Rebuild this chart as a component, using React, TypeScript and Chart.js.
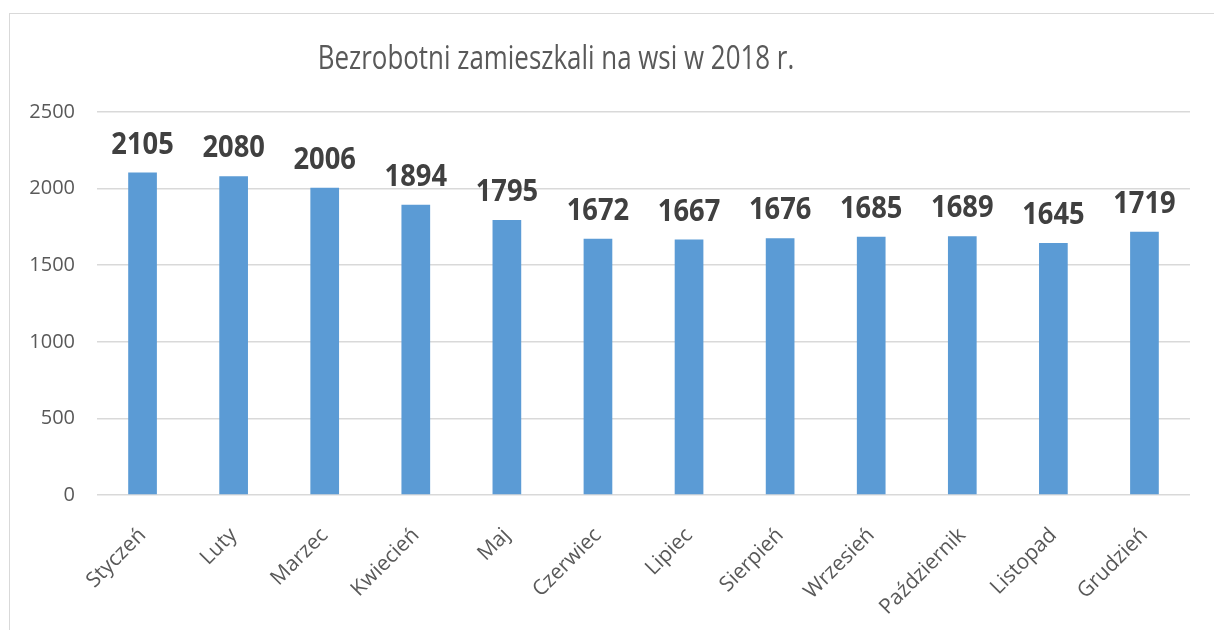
import React, { useEffect, useRef } from "react";
import { Chart, registerables } from "chart.js";

Chart.register(...registerables);

const months = [
  "Styczeń", "Luty", "Marzec", "Kwiecień", "Maj", "Czerwiec",
  "Lipiec", "Sierpień", "Wrzesień", "Październik", "Listopad", "Grudzień",
];
const unemployed = [2105, 2080, 2006, 1894, 1795, 1672, 1667, 1676, 1685, 1689, 1645, 1719];
const yTicks = [0, 500, 1000, 1500, 2000, 2500];
const titleText = "Bezrobotni zamieszkali na wsi w 2018 r.";

const FONT = "'Open Sans', 'Noto Sans', sans-serif";

// draws text condensed horizontally (Calibri-like proportions)
function drawCondensed(ctx: any, text: string, x: number, y: number, sx: number) {
  ctx.save();
  ctx.translate(x, y);
  ctx.scale(sx, 1);
  ctx.fillText(text, 0, 0);
  ctx.restore();
}

const titlePlugin = {
  id: "customTitle",
  afterDraw(chart: any) {
    const ctx = chart.ctx;
    ctx.save();
    ctx.font = `400 32px ${FONT}`;
    ctx.fillStyle = "#595959";
    ctx.textAlign = "center";
    ctx.textBaseline = "alphabetic";
    drawCondensed(ctx, titleText, 556, 69, 0.81);
    ctx.restore();
  },
};

const labelPlugin = {
  id: "valueLabels",
  afterDatasetsDraw(chart: any) {
    const ctx = chart.ctx;
    const meta = chart.getDatasetMeta(0);
    const data = chart.data.datasets[0].data;
    ctx.save();
    ctx.font = `700 30px ${FONT}`;
    ctx.fillStyle = "#404040";
    ctx.textAlign = "center";
    ctx.textBaseline = "alphabetic";
    meta.data.forEach((bar: any, i: number) => {
      drawCondensed(ctx, String(data[i]), bar.x, bar.y - 19, 0.91);
    });
    ctx.restore();
  },
};

export default function App() {
  const ref = useRef<HTMLCanvasElement | null>(null);
  useEffect(() => {
    if (!ref.current) return;
    const chart = new Chart(ref.current, {
      type: "bar",
      data: {
        labels: months,
        datasets: [
          {
            data: unemployed,
            backgroundColor: "#5b9bd5",
            borderWidth: 0,
            barPercentage: 1,
            categoryPercentage: 0.315,
          },
        ],
      },
      options: {
        responsive: false,
        animation: false,
        layout: { padding: { left: 20, right: 24, top: 112, bottom: 0 } },
        plugins: {
          legend: { display: false },
          title: { display: false },
          tooltip: { enabled: false },
        },
        scales: {
          x: {
            grid: { display: false, drawTicks: false },
            border: { display: false },
            ticks: {
              color: "#595959",
              font: { family: FONT, size: 21 },
              minRotation: 45,
              maxRotation: 45,
              padding: 28,
              autoSkip: false,
            },
            afterFit: (s: any) => {
              s.height = 135;
            },
          },
          y: {
            min: 0,
            max: 2500,
            grid: { color: "#d9d9d9", lineWidth: 1.5, drawTicks: false },
            border: { display: false },
            afterBuildTicks: (s: any) => {
              s.ticks = yTicks.map((v) => ({ value: v }));
            },
            ticks: {
              color: "#595959",
              font: { family: FONT, size: 20 },
              padding: 22,
              callback: (v: any) => String(v),
            },
            afterFit: (s: any) => {
              s.width = 77;
            },
          },
        },
      },
      plugins: [titlePlugin, labelPlugin],
    });
    return () => chart.destroy();
  }, []);

  return (
    <div style={{ position: "fixed", left: 0, top: 0, width: 1214, height: 630, background: "#fff" }}>
      <div
        style={{
          position: "absolute",
          left: 9,
          top: 13,
          width: 1214,
          height: 630,
          borderLeft: "1px solid #d9d9d9",
          borderTop: "1px solid #d9d9d9",
        }}
      />
      <canvas ref={ref} width={1214} height={630} style={{ position: "absolute", left: 0, top: 0 }} />
    </div>
  );
}
